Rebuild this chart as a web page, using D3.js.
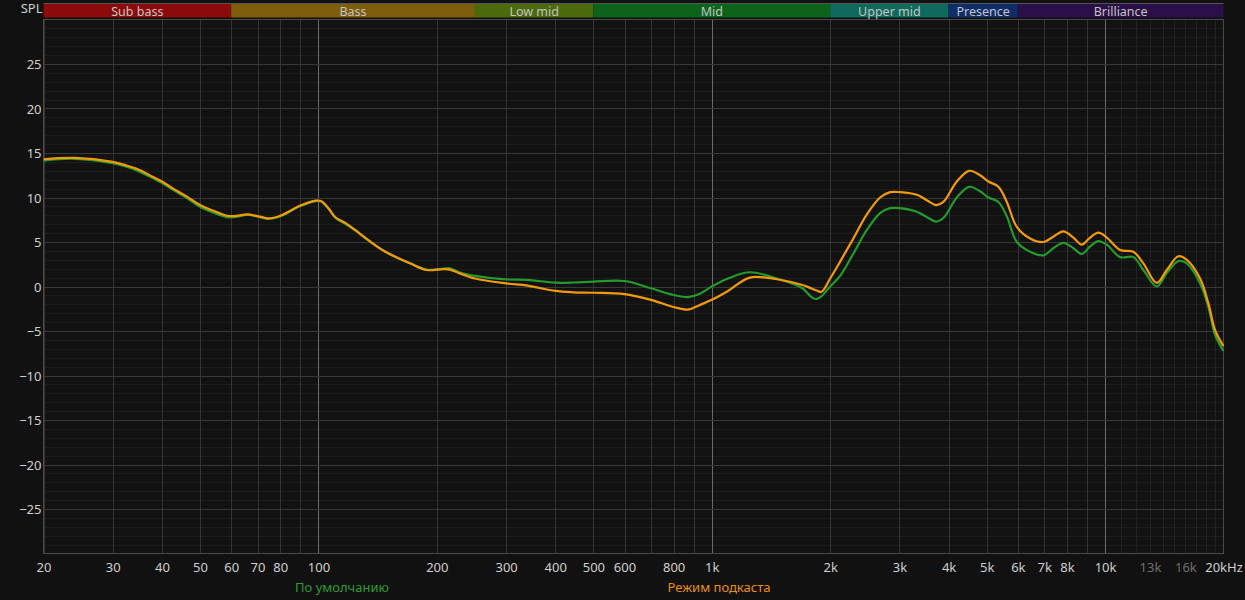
<!DOCTYPE html>
<html>
<head>
<meta charset="utf-8">
<script src="https://cdn.jsdelivr.net/npm/d3@7/dist/d3.min.js"></script>
<style>
  html, body { margin: 0; padding: 0; background: #111111; }
  svg { display: block; }
  text { font-family: "Noto Sans", "Open Sans", sans-serif; }
</style>
</head>
<body>
<svg id="chart" width="1245" height="600"></svg>
<script>
// ---------- DATA ----------
const bandNames = ["Sub bass", "Bass", "Low mid", "Mid", "Upper mid", "Presence", "Brilliance"];
const bandEdges = [20, 60, 250, 500, 2000, 4000, 6000, 20000];
const bandColors = ["#8b0a0b", "#7e5d0a", "#4b6a0b", "#0c641a", "#0f6a5d", "#0f2d69", "#2a0f48"];

const xTickValues = [20, 30, 40, 50, 60, 70, 80, 100, 200, 300, 400, 500, 600, 800, 1000, 2000, 3000, 4000, 5000, 6000, 7000, 8000, 10000, 13000, 16000, 20000];
const xTickLabels = ["20", "30", "40", "50", "60", "70", "80", "100", "200", "300", "400", "500", "600", "800", "1k", "2k", "3k", "4k", "5k", "6k", "7k", "8k", "10k", "13k", "16k", "20kHz"];
const xTickDim = ["13k", "16k"];
const yTickValues = [-25, -20, -15, -10, -5, 0, 5, 10, 15, 20, 25];

const seriesNames = ["По умолчанию", "Режим подкаста"];

const freqs = [
  20, 24, 30, 32.5, 35.1, 38, 40, 42.7, 46.3, 50, 54.1, 58.5, 61, 66.2, 70.9, 74.6, 80, 90, 98.5, 101.6,
  106, 110.6, 117.5, 124, 134, 148, 171, 188.5, 208, 216, 228, 250, 300, 340, 400, 445, 500, 600, 700, 800,
  870, 930, 1000, 1100, 1250, 1500, 1700, 1800, 1850, 1900, 2000, 2120, 2291, 2479, 2679, 2841, 3011, 3322, 3521, 3719,
  3880, 4197, 4511, 4810, 5050, 5354, 5624, 5964, 6447, 6968, 7387, 7832, 8306, 8724, 9158, 9614, 10100, 10916, 11802, 12513,
  13532, 14348, 15357, 16133, 17440, 18307, 19039, 20000
];

const defaultMode = [
  14.15, 14.35, 13.85, 13.45, 12.9, 12.15, 11.65, 10.85, 9.95, 8.95, 8.3, 7.8, 7.8, 8.05, 7.8, 7.6, 7.9, 9.05, 9.6, 9.55,
  8.75, 7.7, 7.0, 6.3, 5.15, 3.9, 2.6, 1.9, 2.0, 2.05, 1.6, 1.2, 0.8, 0.75, 0.43, 0.45, 0.55, 0.62, -0.2, -0.95,
  -1.2, -0.85, 0.0, 0.9, 1.6, 0.75, -0.2, -1.25, -1.4, -1.1, 0.0, 1.2, 3.7, 6.35, 8.25, 8.8, 8.8, 8.4, 7.8, 7.3,
  7.7, 10.0, 11.2, 10.7, 10.0, 9.5, 7.9, 5.0, 3.9, 3.5, 4.3, 4.9, 4.3, 3.65, 4.5, 5.1, 4.7, 3.3, 3.3, 1.85,
  0.0, 1.5, 2.85, 2.6, 0.35, -2.3, -5.45, -7.25
];

const podcastMode = [
  14.3, 14.45, 14.0, 13.6, 13.1, 12.3, 11.8, 11.0, 10.1, 9.15, 8.5, 7.95, 7.9, 8.1, 7.85, 7.65, 7.95, 9.1, 9.65, 9.6,
  8.8, 7.75, 7.1, 6.35, 5.2, 3.9, 2.6, 1.85, 1.95, 1.9, 1.5, 0.9, 0.35, 0.1, -0.5, -0.65, -0.7, -0.85, -1.5, -2.3,
  -2.6, -2.1, -1.5, -0.5, 1.0, 0.73, 0.17, -0.25, -0.45, -0.6, 0.9, 2.8, 5.4, 8.1, 10.0, 10.6, 10.6, 10.3, 9.7, 9.15,
  9.5, 11.8, 13.0, 12.5, 11.8, 11.2, 9.5, 6.7, 5.4, 5.0, 5.6, 6.2, 5.5, 4.7, 5.5, 6.05, 5.5, 4.1, 3.9, 2.6,
  0.4, 1.85, 3.4, 3.0, 0.9, -1.9, -4.9, -6.7
];

// ---------- CHART ----------
const svg = d3.select("#chart");
const plotLeft = 43.5, plotRight = 1223.5, plotTop = 19.5, plotBottom = 553.5;

const x = d3.scaleLog().domain([20, 20000]).range([plotLeft, plotRight]);
const y = d3.scaleLinear().domain([-30, 30]).range([plotBottom, plotTop]);

svg.append("rect").attr("x", 0).attr("y", 0).attr("width", 1245).attr("height", 600).attr("fill", "#111111");
svg.append("rect").attr("x", plotLeft).attr("y", plotTop).attr("width", plotRight - plotLeft).attr("height", plotBottom - plotTop).attr("fill", "#121212");

// minor horizontal grid (1 dB)
const gGrid = svg.append("g");
gGrid.selectAll("line.hmin").data(d3.range(-29, 30).filter(v => v % 5 !== 0))
  .join("line").attr("class", "hmin")
  .attr("x1", plotLeft).attr("x2", plotRight)
  .attr("y1", d => Math.round(y(d)) + 0.5).attr("y2", d => Math.round(y(d)) + 0.5)
  .attr("stroke", "#1d1d1d").attr("stroke-width", 1);

// vertical minor lines above 10k
gGrid.selectAll("line.vmin").data(d3.range(11000, 20000, 1000))
  .join("line").attr("class", "vmin")
  .attr("x1", d => Math.round(x(d)) + 0.5).attr("x2", d => Math.round(x(d)) + 0.5)
  .attr("y1", plotTop).attr("y2", plotBottom)
  .attr("stroke", "#222222").attr("stroke-width", 1);

// major vertical grid
const vMajor = [];
[10, 100, 1000].forEach(dec => { for (let k = 2; k <= 10; k++) vMajor.push(k * dec); });
const decadeLines = [100, 1000, 10000];
gGrid.selectAll("line.vmaj").data(vMajor)
  .join("line").attr("class", "vmaj")
  .attr("x1", d => Math.round(x(d)) + 0.5).attr("x2", d => Math.round(x(d)) + 0.5)
  .attr("y1", plotTop).attr("y2", plotBottom)
  .attr("stroke", d => decadeLines.includes(d) ? "#6a6a6a" : "#343434")
  .attr("stroke-width", 1);

// major horizontal grid (5 dB)
gGrid.selectAll("line.hmaj").data(d3.range(-25, 30, 5))
  .join("line").attr("class", "hmaj")
  .attr("x1", plotLeft).attr("x2", plotRight)
  .attr("y1", d => Math.round(y(d)) + 0.5).attr("y2", d => Math.round(y(d)) + 0.5)
  .attr("stroke", "#383838").attr("stroke-width", 1);

// border
svg.append("rect").attr("x", plotLeft).attr("y", plotTop).attr("width", plotRight - plotLeft).attr("height", plotBottom - plotTop)
  .attr("fill", "none").attr("stroke", "#4a4a4a").attr("stroke-width", 1);

// band header
const gBand = svg.append("g");
const bands = bandNames.map((n, i) => ({ name: n, f0: bandEdges[i], f1: bandEdges[i + 1], color: bandColors[i] }));
gBand.selectAll("rect").data(bands).join("rect")
  .attr("x", d => x(d.f0)).attr("width", d => x(d.f1) - x(d.f0))
  .attr("y", 3.5).attr("height", 14)
  .attr("fill", d => d.color);
gBand.append("line").attr("x1", plotLeft).attr("x2", plotRight).attr("y1", 3.5).attr("y2", 3.5)
  .attr("stroke", "#555555").attr("stroke-width", 1);
gBand.selectAll("text").data(bands).join("text")
  .attr("x", d => (x(d.f0) + x(d.f1)) / 2).attr("y", 12.5)
  .attr("text-anchor", "middle").attr("dominant-baseline", "middle")
  .attr("font-size", "12.5px").attr("fill", "#c4c4c4")
  .text(d => d.name);

// axes
const xAxis = d3.axisBottom(x).tickValues(xTickValues)
  .tickFormat((d, i) => xTickLabels[i]).tickSize(0).tickPadding(0);
const gx = svg.append("g").attr("transform", `translate(0, ${plotBottom})`).call(xAxis);
gx.select(".domain").remove();
gx.selectAll("text")
  .attr("y", 15.5).attr("dy", "0")
  .attr("dominant-baseline", "middle")
  .attr("font-family", "'Noto Sans', 'Open Sans', sans-serif")
  .attr("font-size", "13px")
  .attr("fill", (d, i) => xTickDim.includes(xTickLabels[i]) ? "#6e6e6e" : "#cfcfcf");

const yAxis = d3.axisLeft(y).tickValues(yTickValues).tickSize(0).tickPadding(0);
const gy = svg.append("g").attr("transform", `translate(${plotLeft - 2}, 1.5)`).call(yAxis);
gy.select(".domain").remove();
gy.selectAll("text")
  .attr("x", 0).attr("dy", "0")
  .attr("dominant-baseline", "middle")
  .attr("font-family", "'Noto Sans', 'Open Sans', sans-serif")
  .attr("font-size", "13px").attr("fill", "#cfcfcf");

svg.append("text").attr("x", plotLeft - 1).attr("y", 10)
  .attr("text-anchor", "end").attr("dominant-baseline", "middle")
  .attr("font-size", "13px").attr("fill", "#cfcfcf").text("SPL");

// curves
const line = d3.line()
  .x(d => x(d[0])).y(d => y(d[1]))
  .curve(d3.curveCatmullRom.alpha(0.5));

svg.append("clipPath").attr("id", "plotclip")
  .append("rect").attr("x", plotLeft).attr("y", plotTop).attr("width", plotRight - plotLeft + 1).attr("height", plotBottom - plotTop);

const gLines = svg.append("g").attr("clip-path", "url(#plotclip)");
gLines.append("path")
  .datum(freqs.map((f, i) => [f, defaultMode[i]]))
  .attr("d", line).attr("fill", "none")
  .attr("stroke", "#239a2c").attr("stroke-width", 2.2).attr("stroke-linejoin", "round");
gLines.append("path")
  .datum(freqs.map((f, i) => [f, podcastMode[i]]))
  .attr("d", line).attr("fill", "none")
  .attr("stroke", "#f39a0c").attr("stroke-width", 2.2).attr("stroke-linejoin", "round");

// legend
const legendColors = ["#2e9a34", "#e8900e"];
const legendX = [342, 719];
svg.selectAll("text.legend").data(seriesNames).join("text").attr("class", "legend")
  .attr("x", (d, i) => legendX[i]).attr("y", 589)
  .attr("text-anchor", "middle").attr("dominant-baseline", "middle")
  .attr("font-size", "13px").attr("fill", (d, i) => legendColors[i])
  .text(d => d);
</script>
</body>
</html>
